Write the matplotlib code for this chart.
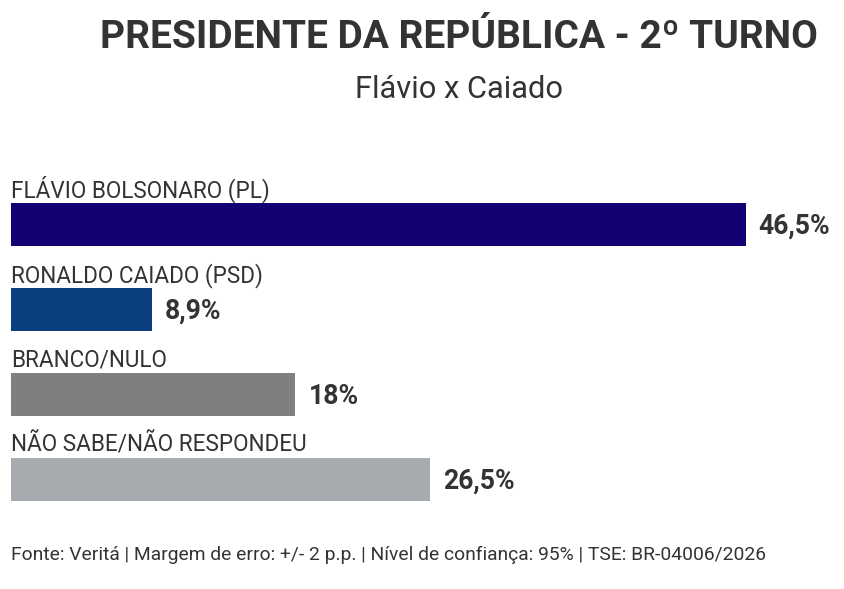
import matplotlib
matplotlib.use("Agg")
import matplotlib.pyplot as plt

# ---- data ----
categories = ["FLÁVIO BOLSONARO (PL)", "RONALDO CAIADO (PSD)", "BRANCO/NULO", "NÃO SABE/NÃO RESPONDEU"]
values = [46.5, 8.9, 18, 26.5]
value_labels = ["46,5%", "8,9%", "18%", "26,5%"]
bar_colors = ["#140073", "#0c3f80", "#7f7f7f", "#a7aaae"]
title = "PRESIDENTE DA REPÚBLICA - 2º TURNO"
subtitle = "Flávio x Caiado"
footer = "Fonte: Veritá | Margem de erro: +/- 2 p.p. | Nível de confiança: 95% | TSE: BR-04006/2026"

FONT = ["Roboto", "DejaVu Sans"]
TXT = "#333333"
W, H = 844, 589
fig = plt.figure(figsize=(W / 100, H / 100), dpi=100)
fig.patch.set_facecolor("white")

# axes: left at 11px, top at 182px, bottom at 522px
px_per_unit = 15.8
ax_left, ax_right = 11, 844
ax_top, ax_bot = 182, 522
ax = fig.add_axes([ax_left / W, (H - ax_bot) / H, (ax_right - ax_left) / W, (ax_bot - ax_top) / H])
ax.set_xlim(0, (ax_right - ax_left) / px_per_unit)
ax.set_ylim(len(categories) - 0.5, -0.5)
ax.axis("off")

bh = 0.506
ypos = list(range(len(categories)))
ax.barh(ypos, values, height=bh, color=bar_colors, edgecolor="none")

cat_texts = []
val_texts = []
for i, (c, v, lab) in enumerate(zip(categories, values, value_labels)):
    t = ax.annotate(c, xy=(0, i - bh / 2), xytext=(0, 6), textcoords="offset pixels",
                    ha="left", va="baseline", fontsize=14, color=TXT, family=FONT)
    cat_texts.append(t)
    tv = ax.annotate(lab, xy=(v, i), xytext=(13, -9), textcoords="offset pixels",
                     ha="left", va="baseline", fontsize=17, fontweight="bold", color=TXT, family=FONT)
    val_texts.append(tv)

t_title = fig.text(459 / W, 1 - 48 / H, title, ha="center", va="baseline", fontsize=28,
                   fontweight="bold", color=TXT, family=FONT)
t_sub = fig.text(459 / W, 1 - 98 / H, subtitle, ha="center", va="baseline", fontsize=18,
                 color=TXT, family=FONT)
t_foot = fig.text(11 / W, 1 - 560 / H, footer, ha="left", va="baseline", fontsize=12,
                  color=TXT, family=FONT)

# fit text widths to the reference
fig.canvas.draw()
r = fig.canvas.get_renderer()
def fit(t, target):
    w = t.get_window_extent(r).width
    t.set_fontsize(t.get_fontsize() * target / w)

fit(t_title, 718)
fit(t_sub, 208)
fit(t_foot, 754)
fit(cat_texts[0], 259)
for t in cat_texts[1:]:
    t.set_fontsize(cat_texts[0].get_fontsize())
fit(val_texts[0], 72)
for t in val_texts[1:]:
    t.set_fontsize(val_texts[0].get_fontsize())

fig.savefig("out.png", dpi=100, facecolor="white")
